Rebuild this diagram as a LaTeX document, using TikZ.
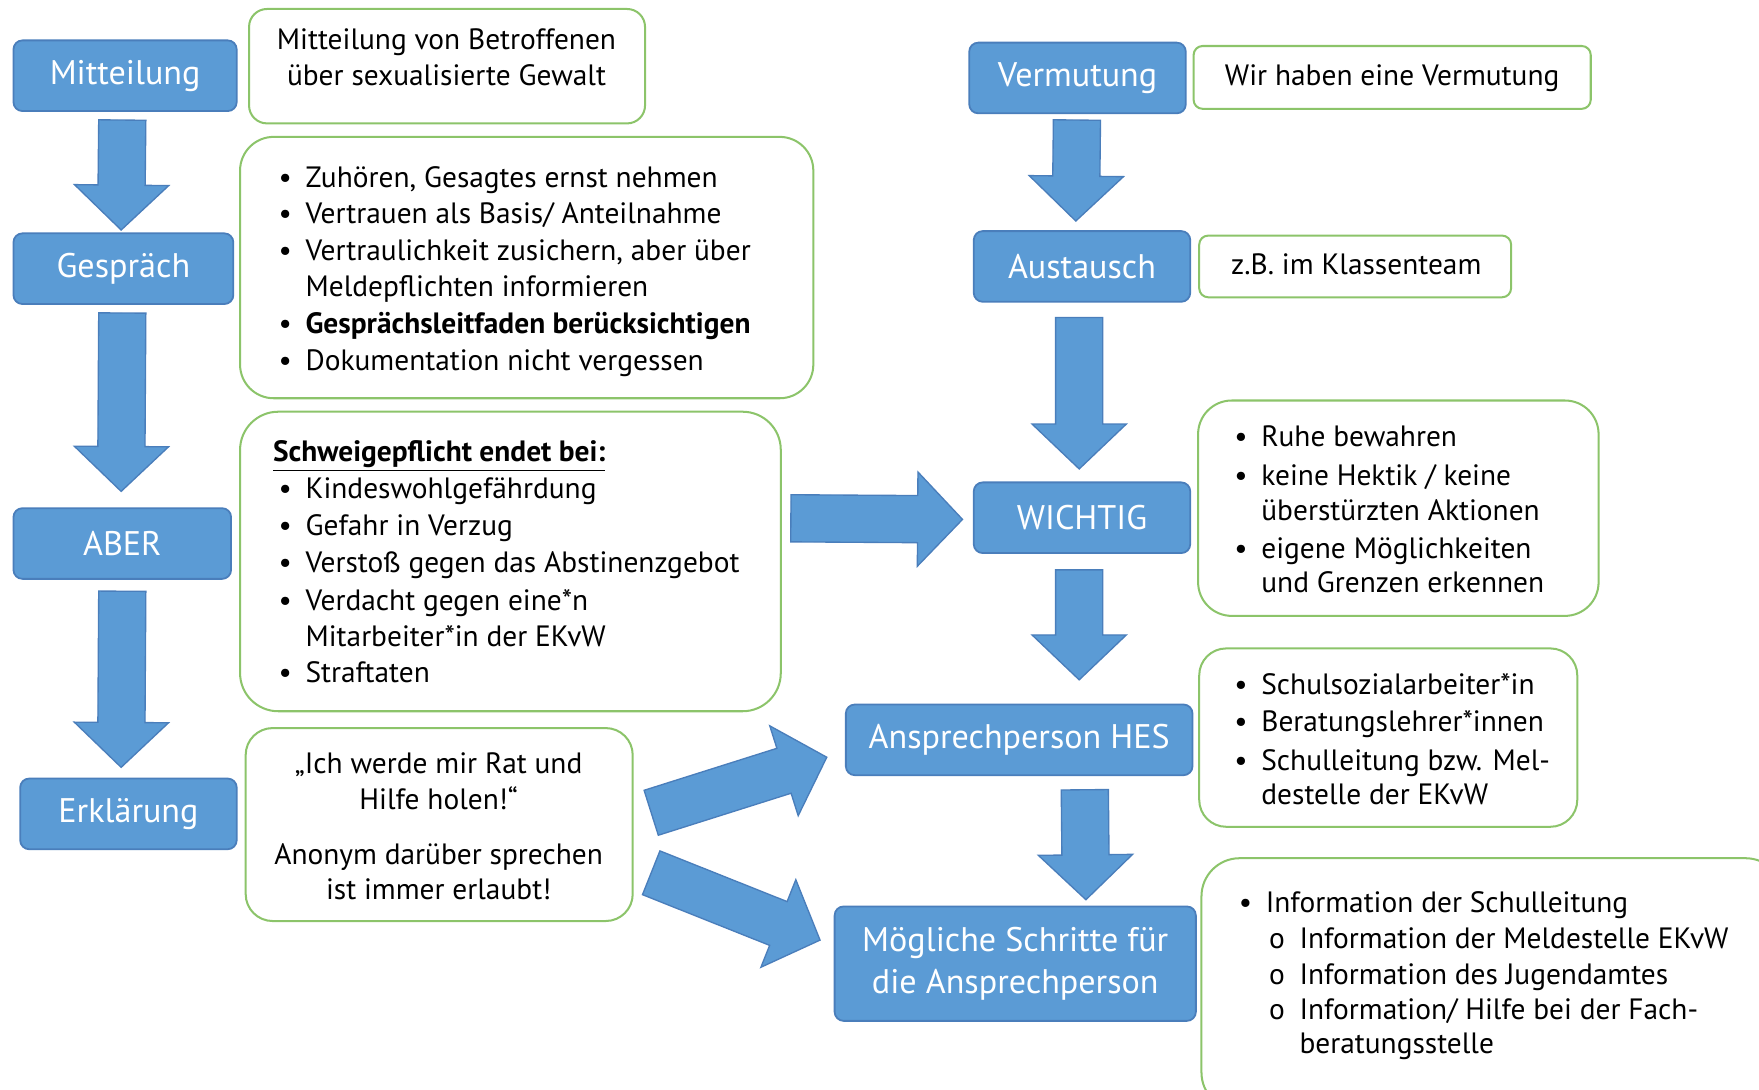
\documentclass[tikz,border=0pt]{standalone}
\usepackage{fontspec}
\setmainfont{PT Sans}
\usetikzlibrary{calc}
\definecolor{bfill}{HTML}{5B9BD5}
\definecolor{bline}{HTML}{4A7EBB}
\definecolor{gline}{HTML}{8CC46A}
\newcommand\bfont{\fontsize{15.2}{18.5}\selectfont}
\newcommand\tfont{\fontsize{13.1}{16.5}\selectfont}
\newcommand\bul{\makebox[12pt][l]{\textbullet}}
\newcommand\sbul{\makebox[13.5pt][l]{o}}
\newcommand\cont{\hspace*{12pt}}
\newcommand\blockarr[3]{%
  \coordinate (#3h) at ($(#2)!20pt!(#1)$);
  \filldraw[barrow] ($(#1)!10.5pt!90:(#2)$) -- ($(#3h)!10.5pt!90:(#2)$) -- ($(#3h)!21pt!90:(#2)$) -- (#2) -- ($(#3h)!21pt!-90:(#2)$) -- ($(#3h)!10.5pt!-90:(#2)$) -- ($(#1)!10.5pt!-90:(#2)$) -- cycle;
}
\begin{document}
\begin{tikzpicture}[x=0.5pt,y=-0.5pt,
  bbox/.style={draw=bline, fill=bfill, line width=0.8pt, rounded corners=4pt, text=white, font=\bfont, inner sep=0pt, align=center},
  gbox/.style={draw=gline, fill=white, line width=0.9pt, inner sep=0pt},
  txt/.style={font=\tfont, inner sep=0pt, anchor=mid west, yshift=-1.2pt},
  ctxt/.style={font=\tfont, inner sep=0pt, anchor=mid, yshift=-1.2pt},
  barrow/.style={fill=bfill, draw=bline, line width=0.6pt, line join=miter}]
\useasboundingbox (0,0) rectangle (1568,971);
\clip (0,0) rectangle (1568,971);

% ---------- blue boxes ----------
\node[bbox, minimum width=99.5pt, minimum height=31.5pt] (mit) at (111.5,67.5) {Mitteilung};
\node[bbox, minimum width=98pt, minimum height=31.5pt] (ges) at (110,239.5) {Gespräch};
\node[bbox, minimum width=97pt, minimum height=31.5pt] (aber) at (109,484.5) {ABER};
\node[bbox, minimum width=96.5pt, minimum height=31.5pt] (erk) at (114.5,725.5) {Erklärung};
\node[bbox, minimum width=96.5pt, minimum height=31.5pt] (ver) at (960.5,69.5) {Vermutung};
\node[bbox, minimum width=96.5pt, minimum height=31.5pt] (aus) at (964.5,237.5) {Austausch};
\node[bbox, minimum width=96.5pt, minimum height=31.5pt] (wich) at (964.5,461.5) {WICHTIG};
\node[bbox, minimum width=154.5pt, minimum height=31.5pt] (ans) at (908.5,659.5) {Ansprechperson HES};
\node[bbox, minimum width=161pt, minimum height=51pt] (moe) at (905,859) {Mögliche Schritte für\\die Ansprechperson};

% ---------- green boxes ----------
\node[gbox, rounded corners=8pt, minimum width=176.5pt, minimum height=51pt] (ga) at (398.5,59) {};
\node[gbox, rounded corners=15pt, minimum width=255.5pt, minimum height=116.5pt] (gb) at (469.5,238.5) {};
\node[gbox, rounded corners=17pt, minimum width=241pt, minimum height=133.5pt] (gc) at (455,500.5) {};
\node[gbox, rounded corners=12pt, minimum width=172.5pt, minimum height=86pt] (gd) at (391.5,735) {};
\node[gbox, rounded corners=4pt, minimum width=177pt, minimum height=28pt] (ge) at (1241,69) {};
\node[gbox, rounded corners=4pt, minimum width=139pt, minimum height=27.5pt] (gf) at (1208,237.5) {};
\node[gbox, rounded corners=15pt, minimum width=178.5pt, minimum height=96pt] (gg) at (1246.5,453) {};
\node[gbox, rounded corners=12pt, minimum width=168.5pt, minimum height=79.5pt] (gh) at (1237.5,657.5) {};
\node[gbox, rounded corners=17pt, minimum width=259.5pt, minimum height=112.5pt] (gi) at (1330.5,877.5) {};

% ---------- texts ----------
\node[ctxt] (ta1) at (398,37) {Mitteilung von Betroffenen};
\node[ctxt] (ta2) at (398,69) {über sexualisierte Gewalt};

\node[txt] (tb1) at (248,160) {\bul Zuhören, Gesagtes ernst nehmen};
\node[txt] (tb2) at (248,192) {\bul Vertrauen als Basis/ Anteilnahme};
\node[txt] (tb3) at (248,225) {\bul Vertraulichkeit zusichern, aber über};
\node[txt] (tb4) at (248,257) {\cont Meldepflichten informieren};
\node[txt] (tb5) at (248,290) {\bul \textbf{Gesprächsleitfaden berücksichtigen}};
\node[txt] (tb6) at (248,323) {\bul Dokumentation nicht vergessen};

\node[txt] (tc0) at (243,404) {\textbf{\underline{Schweigepflicht endet bei:}}};
\node[txt] (tc1) at (248,437) {\bul Kindeswohlgefährdung};
\node[txt] (tc2) at (248,470) {\bul Gefahr in Verzug};
\node[txt] (tc3) at (248,503) {\bul Verstoß gegen das Abstinenzgebot};
\node[txt] (tc4) at (248,537) {\bul Verdacht gegen eine*n};
\node[txt] (tc5) at (248,569) {\cont Mitarbeiter*in der EKvW};
\node[txt] (tc6) at (248,601) {\bul Straftaten};

\node[ctxt] (td1) at (391,682) {„Ich werde mir Rat und};
\node[ctxt] (td2) at (391,714) {Hilfe holen!“};
\node[ctxt] (td3) at (391,763) {Anonym darüber sprechen};
\node[ctxt] (td4) at (391,794) {ist immer erlaubt!};

\node[ctxt] (te1) at (1241,69) {Wir haben eine Vermutung};
\node[ctxt] (tf1) at (1209,237) {z.B. im Klassenteam};

\node[txt] (tg1) at (1100,391) {\bul Ruhe bewahren};
\node[txt] (tg2) at (1100,425) {\bul keine Hektik / keine};
\node[txt] (tg3) at (1100,457) {\cont überstürzten Aktionen};
\node[txt] (tg4) at (1100,490) {\bul eigene Möglichkeiten};
\node[txt] (tg5) at (1100,521) {\cont und Grenzen erkennen};

\node[txt] (th1) at (1100,612) {\bul Schulsozialarbeiter*in};
\node[txt] (th2) at (1100,645) {\bul Beratungslehrer*innen};
\node[txt] (th3) at (1100,679) {\bul Schulleitung bzw. Mel-};
\node[txt] (th4) at (1100,710) {\cont destelle der EKvW};

\node[txt] (ti1) at (1104,806) {\bul Information der Schulleitung};
\node[txt] (ti2) at (1131,838) {\sbul Information der Meldestelle EKvW};
\node[txt] (ti3) at (1131,870) {\sbul Information des Jugendamtes};
\node[txt] (ti4) at (1131,901) {\sbul Information/ Hilfe bei der Fach-};
\node[txt] (ti5) at (1158,932) {beratungsstelle};

% ---------- block arrows ----------
\coordinate (a1s) at (109,107);  \coordinate (a1e) at (108,205);
\coordinate (a2s) at (109,279);  \coordinate (a2e) at (108,438);
\coordinate (a3s) at (109,527);  \coordinate (a3e) at (108,684);
\coordinate (a4s) at (960,107);  \coordinate (a4e) at (959,197);
\coordinate (a5s) at (962,283);  \coordinate (a5e) at (962,418);
\coordinate (a6s) at (962,508);  \coordinate (a6e) at (962,606);
\coordinate (a7s) at (967,704);  \coordinate (a7e) at (968,802);
\coordinate (a8s) at (705,462);  \coordinate (a8e) at (858,463);
\coordinate (a9s) at (580.5,724.5); \coordinate (a9e) at (737,675);
\coordinate (a10s) at (580.5,778); \coordinate (a10e) at (731,838);
\blockarr{a1s}{a1e}{a1}
\blockarr{a2s}{a2e}{a2}
\blockarr{a3s}{a3e}{a3}
\blockarr{a4s}{a4e}{a4}
\blockarr{a5s}{a5e}{a5}
\blockarr{a6s}{a6e}{a6}
\blockarr{a7s}{a7e}{a7}
\blockarr{a8s}{a8e}{a8}
\blockarr{a9s}{a9e}{a9}
\blockarr{a10s}{a10e}{a10}
\end{tikzpicture}
\end{document}
